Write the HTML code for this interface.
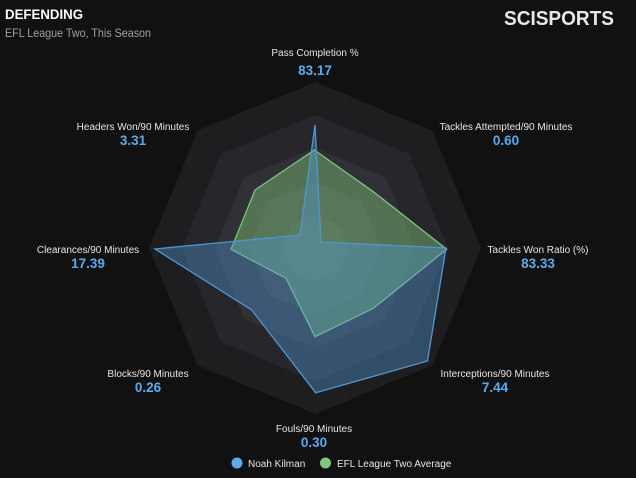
<!DOCTYPE html>
<html><head><meta charset="utf-8"><style>
html,body{margin:0;padding:0;background:#111111;}
svg{display:block;font-family:"Liberation Sans",sans-serif;}
</style></head><body>
<svg width="636" height="478" viewBox="0 0 636 478">
<rect width="636" height="478" fill="#111111"/>
<text x="5" y="19" fill="#fff" font-size="14" font-weight="bold" textLength="78" lengthAdjust="spacingAndGlyphs">DEFENDING</text>
<text x="5" y="37" fill="#a0a0a0" font-size="12" textLength="146" lengthAdjust="spacingAndGlyphs">EFL League Two, This Season</text>
<text x="614" y="25" fill="#e8e8e8" font-size="20" font-weight="bold" textLength="110" lengthAdjust="spacingAndGlyphs" text-anchor="end">SCISPORTS</text>

<polygon points="315,82 432.4,130.6 481,248 432.4,365.4 315,414 197.6,365.4 149,248 197.6,130.6" fill="#1e1e21"/>
<polygon points="315,115 409,154 448,248 409,342 315,381 221,342 182,248 221,154" fill="#27272b"/>
<polygon points="315,148 385.7,177.3 415,248 385.7,318.7 315,348 244.3,318.7 215,248 244.3,177.3" fill="#303036"/>
<polygon points="315,182 361.7,201.3 381,248 361.7,294.7 315,314 268.3,294.7 249,248 268.3,201.3" fill="#393940"/>
<polygon points="315,215 338.3,224.7 348,248 338.3,271.3 315,281 291.7,271.3 282,248 291.7,224.7" fill="#42424a"/>

<polygon points="314.3,150 373.3,191.7 446.7,249.3 373.3,308.3 315,336.7 286,278.3 231,249.3 255,190" fill="rgba(125,195,120,0.45)" stroke="#7fc47f" stroke-width="1.3"/>
<polygon points="315,125 321,242 446,248 427.5,361 315.7,392.7 251.7,310 155,249 300,235" fill="rgba(80,150,210,0.4)" stroke="#4f97d2" stroke-width="1.3"/>

<g font-size="10" fill="#e6e6e6" text-anchor="middle">
<text x="315" y="56">Pass Completion %</text>
<text x="506" y="130">Tackles Attempted/90 Minutes</text>
<text x="538" y="253">Tackles Won Ratio (%)</text>
<text x="495" y="377">Interceptions/90 Minutes</text>
<text x="314" y="432">Fouls/90 Minutes</text>
<text x="148" y="377">Blocks/90 Minutes</text>
<text x="88" y="253">Clearances/90 Minutes</text>
<text x="133" y="130">Headers Won/90 Minutes</text>
</g>
<g font-size="13.5" font-weight="bold" fill="#5aabed" text-anchor="middle">
<text x="315" y="75">83.17</text>
<text x="506" y="145">0.60</text>
<text x="538" y="268">83.33</text>
<text x="495" y="392">7.44</text>
<text x="314" y="447">0.30</text>
<text x="148" y="392">0.26</text>
<text x="88" y="268">17.39</text>
<text x="133" y="145">3.31</text>
</g>
<circle cx="237" cy="463" r="5.5" fill="#5aabed"/>
<text x="248" y="467" font-size="10" fill="#e6e6e6">Noah Kilman</text>
<circle cx="325.5" cy="463" r="5.5" fill="#7fc47f"/>
<text x="337" y="467" font-size="10" fill="#e6e6e6">EFL League Two Average</text>
</svg>
</body></html>
